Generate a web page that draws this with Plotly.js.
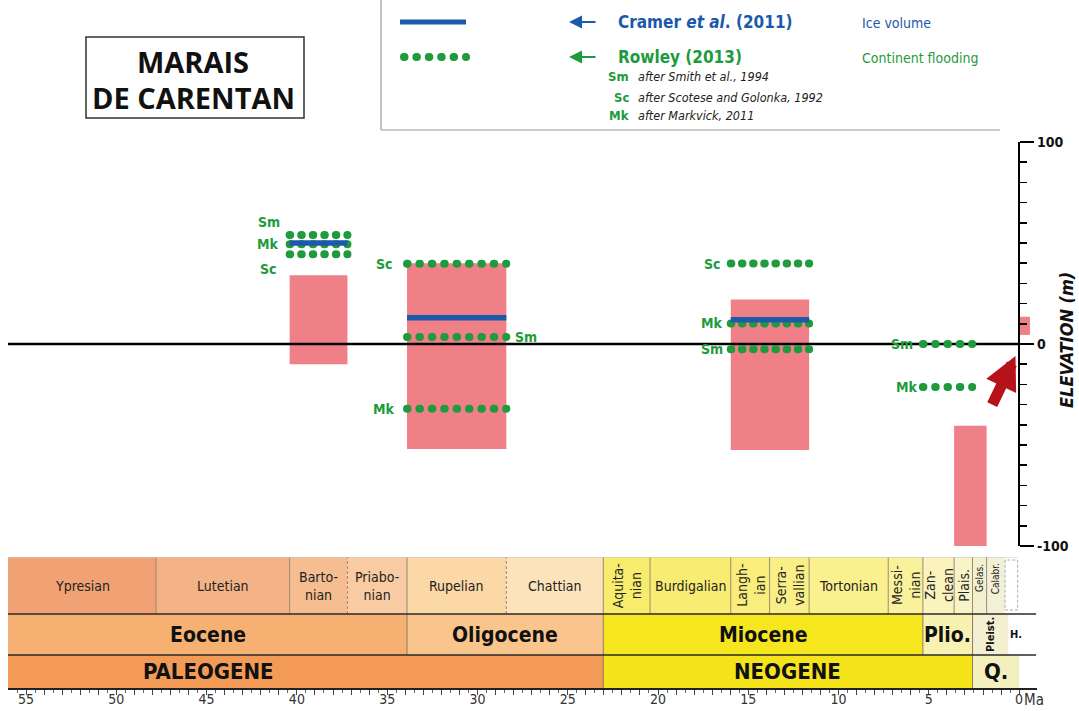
<!DOCTYPE html>
<html>
<head>
<meta charset="utf-8">
<script src="https://cdn.plot.ly/plotly-3.0.1.min.js"></script>
<style>
  html, body { margin: 0; padding: 0; background: #fff; }
  #chart { width: 1079px; height: 711px; }
  /* round caps turn the tiny dashes into dots */
  path[style*="dasharray: 0.5px"] { stroke-linecap: round !important; }
</style>
</head>
<body>
<div id="chart"></div>
<script>
// ---- flooding windows (pink boxes): ages in Ma, elevations in m
var floodStart  = [40.4, 33.9, 15.97, 3.6, 0];
var floodEnd    = [37.2, 28.4, 11.63, 1.8, -0.6];
var floodTop    = [34, 40, 22, -40.5, 13.5];
var floodBottom = [-10, -52, -52.5, -100, 4.5];

// ---- Cramer et al. (2011), ice volume
var cramerStart = [40.4, 33.9, 15.97];
var cramerEnd   = [37.2, 28.4, 11.63];
var cramerElev  = [50, 13, 12];

// ---- Rowley (2013), continent flooding
var rowleySrc   = ['Sm', 'Mk', 'Sc', 'Sc', 'Sm', 'Mk', 'Sc', 'Mk', 'Sm', 'Sm', 'Mk'];
var rowleyStart = [40.4, 40.4, 40.4, 33.9, 33.9, 33.9, 15.97, 15.97, 15.97, 5.33, 5.33];
var rowleyEnd   = [37.2, 37.2, 37.2, 28.4, 28.4, 28.4, 11.63, 11.63, 11.63, 2.6, 2.6];
var rowleyElev  = [54, 49.4, 44.4, 39.7, 3.5, -32, 39.8, 10.2, -2.6, 0, -21.3];
var rowleyDots  = [6, 6, 6, 9, 9, 9, 8, 8, 8, 5, 5];

// ---- time scale
var stageName  = ['Ypresian', 'Lutetian', 'Barto-<br>nian', 'Priabo-<br>nian', 'Rupelian', 'Chattian',
                  'Aquita-<br>nian', 'Burdigalian', 'Langh-<br>ian', 'Serra-<br>vallian', 'Tortonian',
                  'Messi-<br>nian', 'Zan-<br>clean', 'Plais.', 'Gelas.', 'Calabr.'];
var stageStart = [56, 47.8, 40.4, 37.2, 33.9, 28.4, 23.03, 20.44, 15.97, 13.82, 11.63, 7.25, 5.33, 3.6, 2.58, 1.8];
var stageEnd   = [47.8, 40.4, 37.2, 33.9, 28.4, 23.03, 20.44, 15.97, 13.82, 11.63, 7.25, 5.33, 3.6, 2.58, 1.8, 0.78];
var seriesName  = ['Eocene', 'Oligocene', 'Miocene', 'Plio.', 'Pleist.'];
var seriesStart = [56, 33.9, 23.03, 5.33, 2.58];
var seriesEnd   = [33.9, 23.03, 5.33, 2.58, 0.6];
var systemName  = ['PALEOGENE', 'NEOGENE', 'Q.'];
var systemStart = [56, 23.03, 2.58];
var systemEnd   = [23.03, 2.58, 0];

// colours
var stageFill  = ['#F0A274', '#F4B386', '#F5BD90', '#F8CBA2', '#FBD8A6', '#FDE3BA',
                  '#F8EC6C', '#F8EC72', '#F9EE7C', '#F9EF86', '#FAF08E', '#FAF19C',
                  '#FAF3BE', '#F9F3C8', '#F3F0D0', '#F3F0D8'];
var seriesFill = ['#F6B172', '#FAC58C', '#F5E61E', '#F8F2B2', '#F3EFD0'];
var systemFill = ['#F29A56', '#F5E41C', '#F4F0BE'];
var PINK = '#EF8088', GREEN = '#1E9B3C', BLUE = '#1B5AAA', DARKRED = '#B5121B';
var FONT = 'Liberation Sans Narrow, DejaVu Sans Condensed, Roboto, sans-serif';

// page geometry
var W = 1079, H = 711, ML = 8, MR = 42, MT = 142, MB = 23;
var X0 = 56, X1 = -0.99;
var pxPerMa = (W - ML - MR) / (X0 - X1);
var plotH = H - MT - MB;
function fx(px) { return (px - ML) / (W - ML - MR); }
function fy(py) { return (H - MB - py) / plotH; }

// label placement nudges [dx, dy] in px (dx > 0 : label after the segment)
var labelNudge = [[-8, 13], [-9, 0], [-11, -15], [-12, 0], [7, 0], [-10, 0],
                  [-8, 0], [-6, 0], [-6, 0], [-8, 0], [-3, 0]];

var traces = [];
// pink boxes
var mid = [], wid = [], hgt = [];
for (var i = 0; i < floodStart.length; i++) {
  mid.push((floodStart[i] + floodEnd[i]) / 2);
  wid.push(Math.abs(floodStart[i] - floodEnd[i]));
  hgt.push(floodTop[i] - floodBottom[i]);
}
traces.push({type: 'bar', x: mid, y: hgt, base: floodBottom, width: wid,
  marker: {color: PINK, line: {width: 0}}, hoverinfo: 'skip', showlegend: false});

// present sea level
traces.push({type: 'scatter', mode: 'lines', x: [X0, 0], y: [0, 0],
  line: {color: '#000', width: 2.5}, hoverinfo: 'skip', showlegend: false});

// Rowley dotted segments
var annotations = [];
for (var i = 0; i < rowleyStart.length; i++) {
  var period = (rowleyStart[i] - rowleyEnd[i]) * pxPerMa / (rowleyDots[i] - 1) - 0.02;
  traces.push({type: 'scatter', mode: 'lines',
    x: [rowleyStart[i], rowleyEnd[i]], y: [rowleyElev[i], rowleyElev[i]],
    line: {color: GREEN, width: 8, dash: '0.5px,' + (period - 0.5).toFixed(2) + 'px'},
    hoverinfo: 'skip', showlegend: false});
  var n = labelNudge[i];
  annotations.push({x: n[0] > 0 ? rowleyEnd[i] : rowleyStart[i], y: rowleyElev[i],
    xref: 'x', yref: 'y', text: '<b>' + rowleySrc[i] + '</b>', showarrow: false,
    xanchor: n[0] > 0 ? 'left' : 'right', yanchor: 'middle', xshift: n[0], yshift: n[1],
    font: {family: FONT, size: 14, color: GREEN}});
}
// Cramer lines
for (var i = 0; i < cramerStart.length; i++) {
  traces.push({type: 'scatter', mode: 'lines',
    x: [cramerStart[i], cramerEnd[i]], y: [cramerElev[i], cramerElev[i]],
    line: {color: BLUE, width: 5.5}, hoverinfo: 'skip', showlegend: false});
}
// empty trace so the time-scale subplot exists
traces.push({type: 'scatter', x: [], y: [], xaxis: 'x', yaxis: 'y2', showlegend: false});

// ---- time scale shapes and labels (y2 units = px above the axis)
var shapes = [];
var STG = [74, 131], SER = [33, 74], SYS = [0, 33];
function box(a, b, r, fill) {
  shapes.push({type: 'rect', xref: 'x', yref: 'y2', x0: a, x1: b, y0: r[0], y1: r[1],
    fillcolor: fill, line: {width: 0}, layer: 'below'});
}
function vline(t, r, col, dash) {
  shapes.push({type: 'line', xref: 'x', yref: 'y2', x0: t, x1: t, y0: r[0], y1: r[1],
    line: {color: col, width: 1, dash: dash || 'solid'}});
}
var rotated = [6, 8, 9, 11, 12, 13, 14, 15], small = [14, 15], dashed = [3, 5];
for (var i = 0; i < stageName.length; i++) {
  box(stageStart[i], stageEnd[i], STG, stageFill[i]);
  if (i > 0) vline(stageStart[i], STG, '#9a8a70', dashed.indexOf(i) >= 0 ? '3px,2px' : 'solid');
  var rot = rotated.indexOf(i) >= 0, sm = small.indexOf(i) >= 0;
  annotations.push({x: (stageStart[i] + stageEnd[i]) / 2, y: (STG[0] + STG[1]) / 2 + (sm ? 7 : 0),
    xref: 'x', yref: 'y2', text: stageName[i], showarrow: false, textangle: rot ? -90 : 0,
    xanchor: 'center', yanchor: 'middle',
    font: {family: FONT, size: sm ? 10 : 14, color: '#222'}});
}
// Holocene bracket in the stage row
shapes.push({type: 'rect', xref: 'x', yref: 'y2', x0: 0.78, x1: 0.08, y0: STG[0] + 4, y1: STG[1] - 3,
  fillcolor: '#fff', line: {color: '#aaa', width: 1, dash: '3px,2px'}});
for (var i = 0; i < seriesName.length; i++) {
  box(seriesStart[i], seriesEnd[i], SER, seriesFill[i]);
  if (i > 0) vline(seriesStart[i], SER, '#8a7a60');
  var pl = seriesName[i] === 'Pleist.';
  annotations.push({x: (seriesStart[i] + seriesEnd[i]) / 2, y: (SER[0] + SER[1]) / 2,
    xref: 'x', yref: 'y2', text: '<b>' + seriesName[i] + '</b>', showarrow: false,
    xanchor: 'center', yanchor: 'middle',
    textangle: pl ? -90 : 0, font: {family: FONT, size: pl ? 11 : 21, color: '#111'}});
}
annotations.push({x: 0.17, y: (SER[0] + SER[1]) / 2, xref: 'x', yref: 'y2', text: '<b>H.</b>',
  showarrow: false, xanchor: 'center', yanchor: 'middle', font: {family: FONT, size: 11, color: '#111'}});
var systemLabelAt = {PALEOGENE: 44.9};
for (var i = 0; i < systemName.length; i++) {
  box(systemStart[i], systemEnd[i], SYS, systemFill[i]);
  if (i > 0) vline(systemStart[i], SYS, '#8a7a60');
  annotations.push({x: systemLabelAt[systemName[i]] || (systemStart[i] + systemEnd[i]) / 2,
    y: (SYS[0] + SYS[1]) / 2, xref: 'x', yref: 'y2', text: '<b>' + systemName[i] + '</b>',
    showarrow: false, xanchor: 'center', yanchor: 'middle',
    font: {family: FONT, size: 22, color: '#111'}});
}
// row separators
[SER[1], SYS[1]].forEach(function (y) {
  shapes.push({type: 'line', xref: 'x', yref: 'y2', x0: X0, x1: -0.94, y0: y, y1: y,
    line: {color: '#2a2a2a', width: 1.5}});
});
shapes.push({type: 'line', xref: 'x', yref: 'y2', x0: X0, x1: 0.08, y0: STG[1], y1: STG[1],
  line: {color: '#c8c8c8', width: 1}});

// paper-placed text helper (pixel coordinates)
function note(px, py, txt, size, col, anchor, extra) {
  var a = {x: fx(px), y: fy(py), xref: 'paper', yref: 'paper', text: txt, showarrow: false,
    xanchor: anchor || 'center', yanchor: 'middle', font: {family: FONT, size: size, color: col}};
  for (var k in (extra || {})) a[k] = extra[k];
  annotations.push(a);
}
note(1022, 700, 'Ma', 15, '#333', 'left');

// ---- elevation axis title and red arrow
note(1066, 340, '<b><i>ELEVATION (m)</i></b>', 18, '#111', 'center', {textangle: -90});
annotations.push({x: 0.2, y: -6, xref: 'x', yref: 'y', text: '', showarrow: true,
  ax: -24, ay: 50, arrowcolor: DARKRED, arrowwidth: 11, arrowhead: 2, arrowsize: 0.6, standoff: 0});

// ---- title box
shapes.push({type: 'rect', xref: 'paper', yref: 'paper', x0: fx(86), x1: fx(304), y0: fy(37), y1: fy(118),
  line: {color: '#333', width: 1.5}, fillcolor: 'rgba(0,0,0,0)'});
note(193, 61, '<b>MARAIS</b>', 29, '#111', 'center', {font: {family: 'Open Sans, sans-serif', size: 29, color: '#111'}});
note(193, 97, '<b>DE CARENTAN</b>', 29, '#111', 'center', {font: {family: 'Open Sans, sans-serif', size: 29, color: '#111'}});

// ---- legend box
shapes.push({type: 'line', xref: 'paper', yref: 'paper', x0: fx(381), x1: fx(381), y0: fy(0), y1: fy(130),
  line: {color: '#999', width: 1.2}});
shapes.push({type: 'line', xref: 'paper', yref: 'paper', x0: fx(381), x1: fx(1000), y0: fy(130), y1: fy(130),
  line: {color: '#999', width: 1.2}});
shapes.push({type: 'line', xref: 'paper', yref: 'paper', x0: fx(400), x1: fx(466), y0: fy(22), y1: fy(22),
  line: {color: BLUE, width: 5}});
shapes.push({type: 'line', xref: 'paper', yref: 'paper', x0: fx(404), x1: fx(466), y0: fy(57), y1: fy(57),
  line: {color: GREEN, width: 8, dash: '0.5px,11.9px'}});
[[22, BLUE], [57, GREEN]].forEach(function (a) {
  annotations.push({x: fx(569), y: fy(a[0]), xref: 'paper', yref: 'paper', text: '', showarrow: true,
    ax: 28, ay: 0, arrowcolor: a[1], arrowwidth: 2, arrowhead: 2, arrowsize: 1.3, standoff: 0});
});
note(616, 22, '<b>Cramer <i>et al</i>. (2011)</b>', 17, BLUE, 'left');
note(860, 23, 'Ice volume', 14, BLUE, 'left');
note(616, 57, '<b>Rowley (2013)</b>', 17, GREEN, 'left');
note(860, 58, 'Continent flooding', 14, GREEN, 'left');
note(631, 77, '<b>Sm</b>', 13, GREEN, 'right');
note(636, 77, '<i>after Smith et al., 1994</i>', 12.5, '#222', 'left');
note(631, 97, '<b>Sc</b>', 13, GREEN, 'right');
note(636, 97, '<i>after Scotese and Golonka, 1992</i>', 12.5, '#222', 'left');
note(631, 116, '<b>Mk</b>', 13, GREEN, 'right');
note(636, 116, '<i>after Markvick, 2011</i>', 12.5, '#222', 'left');

// ---- axes ticks
var tv = [], tt = [], mv = [];
for (var t = 0; t <= 55; t++) { tv.push(t); tt.push(t % 5 === 0 ? String(t) : ''); }
for (var t = 0.5; t < 56; t += 1) mv.push(t);

var layout = {
  width: W, height: H,
  margin: {l: ML, r: MR, t: MT, b: MB, pad: 0},
  paper_bgcolor: '#fff', plot_bgcolor: 'rgba(0,0,0,0)',
  font: {family: FONT, color: '#222'},
  showlegend: false, hovermode: false, barmode: 'overlay',
  xaxis: {range: [X0, X1], anchor: 'y2', showgrid: false, zeroline: false,
    showline: true, linecolor: '#222', linewidth: 1.5,
    tickmode: 'array', tickvals: tv, ticktext: tt, ticks: 'outside', ticklen: 5, tickwidth: 1,
    tickcolor: '#444', tickfont: {family: FONT, size: 14, color: '#333'}, ticklabelstandoff: -7,
    minor: {tickmode: 'array', tickvals: mv, ticks: 'outside', ticklen: 3, tickcolor: '#666', showgrid: false}},
  yaxis: {domain: [(H - MB - 546) / plotH, 1], range: [-100, 100], side: 'right', anchor: 'free',
    position: X0 / (X0 - X1), showgrid: false, zeroline: false,
    showline: true, linecolor: '#000', linewidth: 2,
    tickmode: 'array', tickvals: [-100, 0, 100], ticktext: ['-100', '0', '100'],
    ticks: 'outside', ticklen: 14, tickwidth: 2, tickcolor: '#000',
    tickfont: {family: FONT, size: 14, color: '#111', weight: 'bold'},
    minor: {dtick: 10, tick0: 0, ticks: 'outside', ticklen: 7, tickwidth: 1.5, tickcolor: '#000', showgrid: false}},
  yaxis2: {domain: [0, STG[1] / plotH], range: [0, STG[1]], visible: false, showgrid: false, zeroline: false},
  shapes: shapes,
  annotations: annotations
};

Plotly.newPlot('chart', traces, layout, {staticPlot: true, displayModeBar: false});
</script>
</body>
</html>
